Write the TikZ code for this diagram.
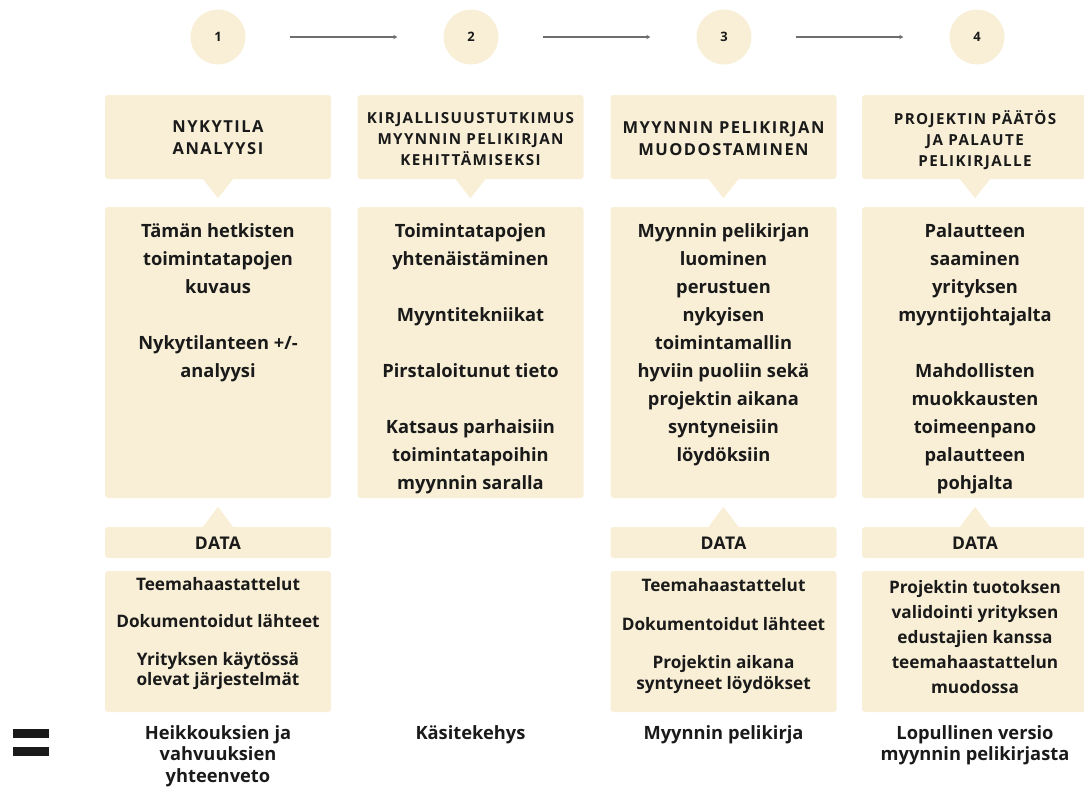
\documentclass[tikz,border=0pt]{standalone}
\usepackage{fontspec}
\setmainfont{Open Sans}
\newfontfamily\hdrfont[LetterSpace=9]{Open Sans}
\newfontfamily\datafont[LetterSpace=3]{Open Sans}
\usetikzlibrary{arrows.meta}
\definecolor{cream}{HTML}{F8EFD6}
\definecolor{ink}{HTML}{1A1A1A}
\definecolor{arrowgray}{HTML}{6E6E6E}
\tikzset{
  panel/.style={fill=cream, rounded corners=3pt, inner sep=0pt, draw=none, minimum width=226pt},
  numcirc/.style={circle, fill=cream, minimum size=55pt, inner sep=0pt, text=ink,
    font=\bfseries\fontsize{13}{13}\selectfont},
  flow/.style={draw=arrowgray, line width=1.3pt, -{Stealth[length=4pt,width=4.5pt]}},
  hdr/.style={align=center, anchor=base, inner sep=0pt, text=ink,
    font=\hdrfont\bfseries\fontsize{16.5}{21.5}\selectfont},
  hdrsmall/.style={hdr, font=\hdrfont\bfseries\fontsize{15.2}{21}\selectfont},
  bodytext/.style={align=center, anchor=base, inner sep=0pt, text=ink,
    font=\bfseries\fontsize{18.3}{28}\selectfont},
  datahdr/.style={anchor=base, inner sep=0pt, text=ink,
    font=\datafont\bfseries\fontsize{17.5}{20}\selectfont},
  datatext/.style={align=center, anchor=base, inner sep=0pt, text=ink,
    font=\bfseries\fontsize{17.2}{20.5}\selectfont},
  result/.style={align=center, anchor=base, inner sep=0pt, text=ink,
    font=\bfseries\fontsize{18.3}{21.5}\selectfont},
}
\begin{document}
\begin{tikzpicture}[x=1pt,y=-1pt]
\useasboundingbox (0,0) rectangle (1084,787);
\clip (0,0) rectangle (1084,787);

% number circles and arrows
\node[numcirc] (c1) at (218,37) {1};
\node[numcirc] (c2) at (471,37) {2};
\node[numcirc] (c3) at (724,37) {3};
\node[numcirc] (c4) at (977,37) {4};
\draw[flow, shorten <=44pt, shorten >=46pt] (c1.east) -- (c2.west);
\draw[flow, shorten <=44pt, shorten >=46pt] (c2.east) -- (c3.west);
\draw[flow, shorten <=44pt, shorten >=46pt] (c3.east) -- (c4.west);

% header panels
\foreach \i/\x in {1/218, 2/470.5, 3/723.5, 4/975}{
  \node[panel, minimum height=84pt] (h\i) at (\x,137) {};
  \fill[cream] ([xshift=-15pt]h\i.south) -- ([xshift=15pt]h\i.south) -- ++(-15,19) -- cycle;
  \node[panel, minimum height=291pt] (b\i) at (\x,352.5) {};
}
% data panels
\foreach \i/\x in {1/218, 3/723.5, 4/975}{
  \node[panel, minimum height=31pt] (d\i) at (\x,542.5) {};
  \fill[cream] ([xshift=-15pt]d\i.north) -- ([xshift=15pt]d\i.north) -- ++(-15,-20) -- cycle;
  \node[panel, minimum height=141pt] (e\i) at (\x,641.5) {};
}

% header texts (anchor = baseline of last line)
\node[hdr] (ht1) at (218,154.2) {NYKYTILA\\ANALYYSI};
\node[hdrsmall] (ht2) at (470.5,165.3) {KIRJALLISUUSTUTKIMUS\\MYYNNIN PELIKIRJAN\\KEHITTÄMISEKSI};
\node[hdr, font=\hdrfont\bfseries\fontsize{16.5}{22}\selectfont] (ht3) at (723.5,155.3) {MYYNNIN PELIKIRJAN\\MUODOSTAMINEN};
\node[hdrsmall] (ht4) at (975,166) {PROJEKTIN PÄÄTÖS\\JA PALAUTE\\PELIKIRJALLE};

% body texts
\node[bodytext] (bt1) at (218,377) {Tämän hetkisten\\toimintatapojen\\kuvaus\\[28pt]Nykytilanteen +/-\\analyysi};
\node[bodytext] (bt2) at (470.5,489) {Toimintatapojen\\yhtenäistäminen\\[28pt]Myyntitekniikat\\[28pt]Pirstaloitunut tieto\\[28pt]Katsaus parhaisiin\\toimintatapoihin\\myynnin saralla};
\node[bodytext] (bt3) at (723.5,461) {Myynnin pelikirjan\\luominen\\perustuen\\nykyisen\\toimintamallin\\hyviin puoliin sekä\\projektin aikana\\syntyneisiin\\löydöksiin};
\node[bodytext] (bt4) at (975,489) {Palautteen\\saaminen\\yrityksen\\myyntijohtajalta\\[28pt]Mahdollisten\\muokkausten\\toimeenpano\\palautteen\\pohjalta};

% data headers
\node[datahdr] (dh1) at (218,549.3) {DATA};
\node[datahdr] (dh3) at (723.5,549.3) {DATA};
\node[datahdr] (dh4) at (975,549) {DATA};

% data texts
\node[datatext] (dt1) at (218,685.5) {Teemahaastattelut\\[17pt]Dokumentoidut lähteet\\[17pt]Yrityksen käytössä\\olevat järjestelmät};
\node[datatext] (dt3) at (723.5,689) {Teemahaastattelut\\[18pt]Dokumentoidut lähteet\\[18pt]Projektin aikana\\syntyneet löydökset};
\node[datatext, font=\bfseries\fontsize{17.2}{25}\selectfont] (dt4) at (975,693.5) {Projektin tuotoksen\\validointi yrityksen\\edustajien kanssa\\teemahaastattelun\\muodossa};

% results
\fill[ink] (13,729) rectangle (49,738);
\fill[ink] (13,747) rectangle (49,756);
\node[result] (r1) at (218,782.3) {Heikkouksien ja\\vahvuuksien\\yhteenveto};
\node[result] (r2) at (470.5,739.3) {Käsitekehys};
\node[result] (r3) at (723.5,739.3) {Myynnin pelikirja};
\node[result] (r4) at (975,760.8) {Lopullinen versio\\myynnin pelikirjasta};
\end{tikzpicture}
\end{document}
